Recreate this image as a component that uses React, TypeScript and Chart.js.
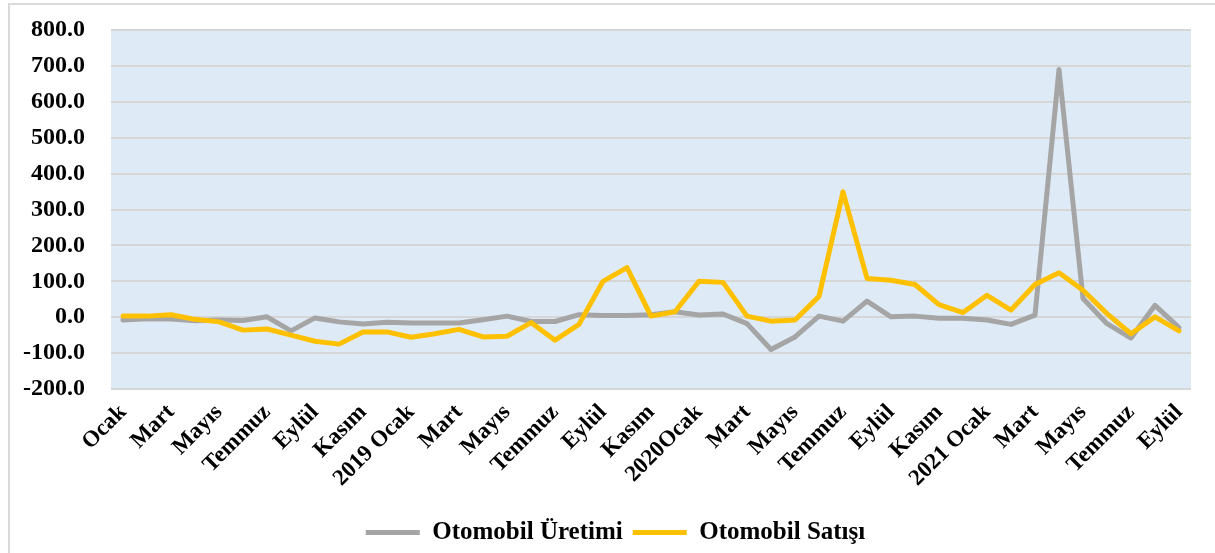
import React, { useEffect, useRef } from "react";
import { Chart, registerables } from "chart.js";

Chart.register(...registerables);

// 45 months: Ocak 2018 .. Eylül 2021
const categories: string[] = [
  "Ocak", "Şubat", "Mart", "Nisan", "Mayıs", "Haziran", "Temmuz", "Ağustos", "Eylül", "Ekim", "Kasım", "Aralık",
  "2019 Ocak", "Şubat", "Mart", "Nisan", "Mayıs", "Haziran", "Temmuz", "Ağustos", "Eylül", "Ekim", "Kasım", "Aralık",
  "2020Ocak", "Şubat", "Mart", "Nisan", "Mayıs", "Haziran", "Temmuz", "Ağustos", "Eylül", "Ekim", "Kasım", "Aralık",
  "2021 Ocak", "Şubat", "Mart", "Nisan", "Mayıs", "Haziran", "Temmuz", "Ağustos", "Eylül",
];

const uretim: number[] = [
  -8, -4, -5, -10, -8, -9, 1, -38, -2, -13, -19, -14,
  -16, -16, -16, -7, 3, -12, -12, 7, 5, 5, 7, 15,
  6, 9, -18, -90, -55, 3, -11, 45, 1, 3, -3, -3,
  -8, -20, 6, 690, 52, -18, -58, 33, -29,
];

const satis: number[] = [
  3, 3, 7, -6, -13, -36, -33, -50, -67, -75, -41, -41,
  -56, -46, -34, -55, -53, -15, -64, -20, 100, 138, 3, 15,
  100, 97, 3, -11, -8, 58, 349, 108, 103, 91, 35, 13,
  61, 20, 91, 124, 75, 10, -46, 1, -38,
];

const seriesNames = ["Otomobil Üretimi", "Otomobil Satışı"];
const yMin = -200;
const yMax = 800;
const yStep = 100;

const FONT = '"Liberation Serif", "Times New Roman", serif';

export default function App() {
  const ref = useRef<HTMLCanvasElement | null>(null);

  useEffect(() => {
    if (!ref.current) return;
    const bgPlugin = {
      id: "plotBg",
      beforeDraw(chart: any) {
        const { ctx, chartArea } = chart;
        ctx.save();
        ctx.fillStyle = "#DEEAF6";
        ctx.fillRect(chartArea.left, chartArea.top, chartArea.right - chartArea.left, chartArea.bottom - chartArea.top);
        ctx.restore();
      },
    };
    const legendShift = {
      id: "legendShift",
      afterLayout(chart: any) {
        const lg = chart.legend;
        if (!lg) return;
        lg.left += 20;
        lg.right += 20;
        lg.top += 2;
        lg.bottom += 2;
      },
    };
    const chart = new Chart(ref.current, {
      type: "line",
      data: {
        labels: categories,
        datasets: [
          {
            label: seriesNames[0],
            data: uretim,
            borderColor: "#A5A5A5",
            backgroundColor: "#A5A5A5",
            borderWidth: 5,
            pointRadius: 0,
            tension: 0,
            borderJoinStyle: "round",
            borderCapStyle: "round",
            order: 1,
          },
          {
            label: seriesNames[1],
            data: satis,
            borderColor: "#FFC000",
            backgroundColor: "#FFC000",
            borderWidth: 5,
            pointRadius: 0,
            tension: 0,
            borderJoinStyle: "round",
            borderCapStyle: "round",
            order: 0,
          },
        ],
      },
      options: {
        responsive: false,
        animation: false,
        layout: { padding: { left: 0, right: 24, top: 30, bottom: 0 } },
        plugins: {
          tooltip: { enabled: false },
          legend: {
            position: "bottom",
            labels: {
              usePointStyle: true,
              pointStyle: "line",
              pointStyleWidth: 54,
              padding: 10,
              color: "#000",
              font: { family: FONT, size: 25, weight: "bold" },
              sort: (a: any, b: any) => a.datasetIndex - b.datasetIndex,
            },
          },
        },
        scales: {
          x: {
            offset: true,
            grid: { display: false },
            border: { display: false },
            ticks: {
              autoSkip: false,
              minRotation: 45,
              maxRotation: 45,
              padding: 2,
              color: "#000",
              font: { family: FONT, size: 23, weight: "bold" },
              callback: (_v: any, i: number) => (i % 2 === 0 ? categories[i] : ""),
            },
            afterFit: (s: any) => {
              s.height = 119;
            },
          },
          y: {
            min: yMin,
            max: yMax,
            grid: { color: "#D6D6D6", lineWidth: 2, drawTicks: false },
            border: { display: false },
            ticks: {
              stepSize: yStep,
              padding: 26,
              color: "#000",
              font: { family: FONT, size: 24, weight: "bold" },
              callback: (v: any) => Number(v).toFixed(1),
            },
            afterFit: (s: any) => {
              s.width = 111;
              s.paddingTop = 0;
              s.paddingBottom = 0;
            },
          },
        },
      },
      plugins: [bgPlugin, legendShift],
    } as any);
    return () => chart.destroy();
  }, []);

  return (
    <>
      <div
        style={{
          position: "absolute",
          left: 8,
          top: 3,
          width: 1207,
          height: 550,
          borderLeft: "2px solid #D9D9D9",
          borderTop: "2px solid #D9D9D9",
          boxSizing: "border-box",
        }}
      />
      <canvas
        ref={ref}
        width={1215}
        height={553}
        style={{ position: "absolute", left: 0, top: 0, width: 1215, height: 553 }}
      />
    </>
  );
}
